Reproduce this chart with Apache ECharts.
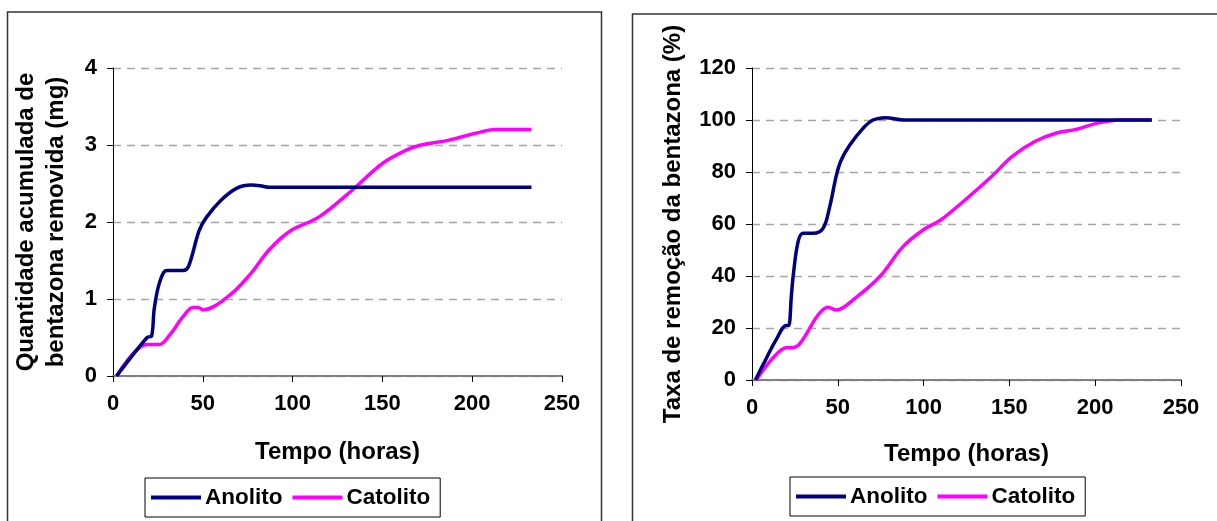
<!DOCTYPE html>
<html>
<head>
<meta charset="utf-8">
<script src="https://cdn.jsdelivr.net/npm/echarts@6/dist/echarts.min.js"></script>
<style>
html,body{margin:0;padding:0;background:#fff;}
#c{width:1217px;height:521px;}
</style>
</head>
<body>
<div id="c"></div>
<script>
// ---- Data ----
const seriesNames = ['Anolito', 'Catolito'];
const xTicks = [0, 50, 100, 150, 200, 250];
const massTicks = [0, 1, 2, 3, 4];
const rateTicks = [0, 20, 40, 60, 80, 100, 120];

// Left chart: cumulative amount removed (mg)
const anolitoMassT = [2, 19, 21.5, 23, 26, 30, 39, 42, 48, 52, 60, 69, 77, 82, 87, 233];
const anolitoMass  = [0, 0.5, 0.52, 0.88, 1.22, 1.37, 1.37, 1.42, 1.89, 2.06, 2.28, 2.44, 2.48, 2.47, 2.45, 2.45];
const catolitoMassT = [2, 19, 26, 31.5, 39, 44.5, 47.5, 50, 65, 76, 87, 98.5, 115, 132, 150, 163, 171.5, 186.5, 201.5, 213, 233];
const catolitoMass  = [0, 0.41, 0.41, 0.53, 0.77, 0.89, 0.89, 0.86, 1.05, 1.31, 1.64, 1.88, 2.07, 2.39, 2.76, 2.93, 3.0, 3.06, 3.15, 3.2, 3.2];

// Right chart: removal rate (%)
const anolitoRateT = [2, 6.4, 14, 20, 21.4, 22.9, 24, 26.8, 29.7, 35.6, 41.4, 45.3, 49.2, 52, 57, 64.7, 70.5, 78, 88, 233];
const anolitoRate  = [0, 5.8, 15.4, 21, 21, 32, 40, 53, 56.4, 56.4, 58.3, 66.7, 78.8, 84.6, 90.4, 96.8, 100, 100.9, 100, 100];
const catolitoRateT = [2.5, 12, 20, 23, 28, 38.5, 44.3, 49.2, 60, 74.4, 88, 99.7, 111.3, 138.5, 151.5, 164.8, 177, 189, 202.5, 214.7, 233];
const catolitoRate  = [0, 8.3, 12.4, 12.4, 14.1, 25, 28, 26.9, 31.4, 39.7, 51.3, 57.7, 62.2, 77.6, 85.9, 91.7, 94.9, 96.4, 99, 100, 100];

const zip = (xs, ys) => xs.map((x, i) => [x, ys[i]]);

const FONT = '"Liberation Sans", Arial, sans-serif';
const colors = ['#000080', '#FF00FF'];

function xAxisCfg(gridIndex, gap) {
  return {
    type: 'value', gridIndex, min: xTicks[0], max: xTicks[xTicks.length - 1], interval: 50,
    name: 'Tempo (horas)', nameLocation: 'middle', nameGap: gap,
    nameTextStyle: { fontFamily: FONT, fontWeight: 'bold', fontSize: 24, color: '#000' },
    axisLine: { show: true, onZero: false, lineStyle: { color: '#808080', width: 2 } },
    axisTick: { show: true, inside: false, length: 6, lineStyle: { color: '#000', width: 1 } },
    axisLabel: { margin: 17, fontFamily: FONT, fontWeight: 'bold', fontSize: 22, color: '#000' },
    splitLine: { show: false }
  };
}
function yAxisCfg(gridIndex, ticks, name, gap, lh) {
  return {
    type: 'value', gridIndex, min: ticks[0], max: ticks[ticks.length - 1], interval: ticks[1] - ticks[0],
    name, nameLocation: 'middle', nameRotate: 90, nameGap: gap,
    nameTextStyle: { fontFamily: FONT, fontWeight: 'bold', fontSize: 24, color: '#000', lineHeight: lh, align: 'center' },
    axisLine: { show: true, lineStyle: { color: '#000', width: 1 } },
    axisTick: { show: true, inside: false, length: 6, lineStyle: { color: '#000', width: 1 } },
    axisLabel: { margin: 16, fontFamily: FONT, fontWeight: 'bold', fontSize: 22, color: '#000' },
    splitLine: { show: true, lineStyle: { color: '#a6a6a6', width: 1.3, type: [8, 6] } }
  };
}
function lineSeries(name, xi, yi, data, color) {
  return {
    name, type: 'line', xAxisIndex: xi, yAxisIndex: yi, data,
    smooth: 0.35, symbol: 'none', lineStyle: { color, width: 3.5 }, itemStyle: { color },
    animation: false, z: name === 'Anolito' ? 3 : 2
  };
}
function legendCfg(left, top) {
  return {
    left, top, data: seriesNames, orient: 'horizontal',
    icon: 'rect', itemWidth: 50, itemHeight: 4, itemGap: 10,
    borderColor: '#000', borderWidth: 1, padding: [8, 10, 8, 6],
    textStyle: { fontFamily: FONT, fontWeight: 'bold', fontSize: 22.5, color: '#000', padding: [0, 0, 0, -1] },
    selectedMode: false
  };
}

const chart = echarts.init(document.getElementById('c'), null, { renderer: 'canvas' });
chart.setOption({
  backgroundColor: '#fff',
  animation: false,
  color: colors,
  graphic: [
    { type: 'rect', shape: { x: 7.5, y: 12, width: 594, height: 540 }, style: { fill: 'none', stroke: '#333', lineWidth: 1.5 }, silent: true },
    { type: 'rect', shape: { x: 632.5, y: 14, width: 640, height: 540 }, style: { fill: 'none', stroke: '#333', lineWidth: 1.5 }, silent: true }
  ],
  grid: [
    { left: 113, top: 68, width: 449, height: 308 },
    { left: 752, top: 68, width: 429, height: 312 }
  ],
  xAxis: [xAxisCfg(0, 64), xAxisCfg(1, 62)],
  yAxis: [
    yAxisCfg(0, massTicks, 'Quantidade acumulada de\nbentazona removida (mg)', 42, 30),
    yAxisCfg(1, rateTicks, 'Taxa de remoção da bentazona (%)', 66, 26)
  ],
  legend: [legendCfg(145, 478), legendCfg(790, 477)],
  series: [
    lineSeries('Anolito', 0, 0, zip(anolitoMassT, anolitoMass), colors[0]),
    lineSeries('Catolito', 0, 0, zip(catolitoMassT, catolitoMass), colors[1]),
    lineSeries('Anolito', 1, 1, zip(anolitoRateT, anolitoRate), colors[0]),
    lineSeries('Catolito', 1, 1, zip(catolitoRateT, catolitoRate), colors[1])
  ]
});
</script>
</body>
</html>
